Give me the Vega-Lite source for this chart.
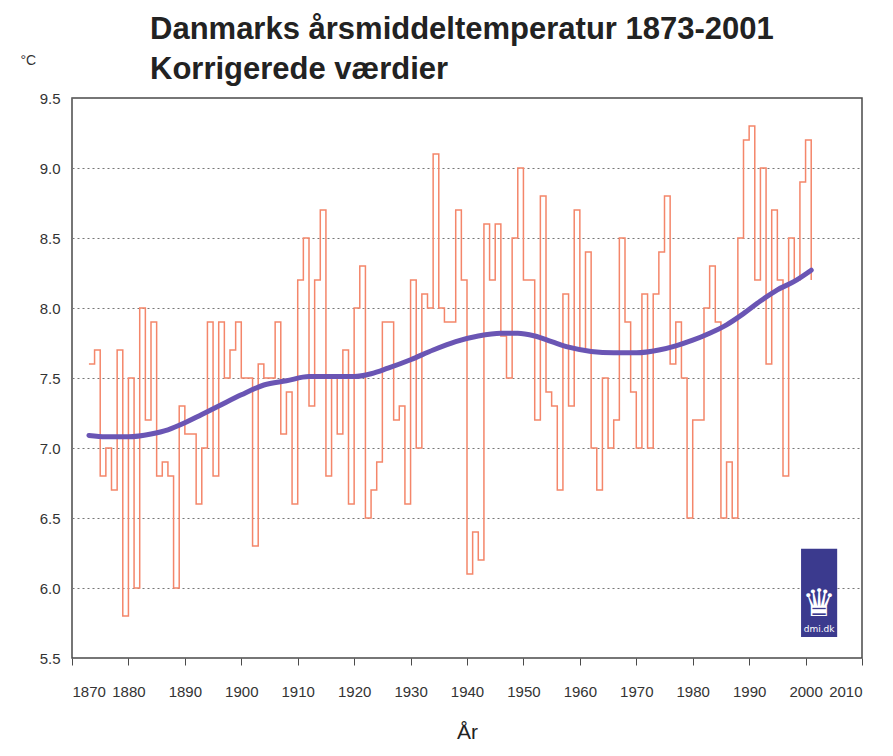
{
  "$schema": "https://vega.github.io/schema/vega-lite/v6.json",
  "width": 790,
  "height": 560,
  "autosize": {"type": "none"},
  "padding": {"left": 72, "top": 98, "right": 31, "bottom": 98},
  "background": "white",
  "config": {
    "font": "Liberation Sans",
    "view": {"stroke": "#4a4a4a", "strokeWidth": 1.5}
  },
  "title": {
    "text": ["Danmarks årsmiddeltemperatur 1873-2001", "Korrigerede værdier"],
    "fontSize": 31,
    "fontWeight": "bold",
    "color": "#222222",
    "anchor": "start",
    "frame": "group",
    "dx": 78,
    "offset": -33,
    "lineHeight": 40
  },
  "datasets": {
    "annual": [
      {"year":1873,"temp":7.6},{"year":1874,"temp":7.7},{"year":1875,"temp":6.8},{"year":1876,"temp":7.0},{"year":1877,"temp":6.7},
      {"year":1878,"temp":7.7},{"year":1879,"temp":5.8},{"year":1880,"temp":7.5},{"year":1881,"temp":6.0},{"year":1882,"temp":8.0},
      {"year":1883,"temp":7.2},{"year":1884,"temp":7.9},{"year":1885,"temp":6.8},{"year":1886,"temp":6.9},{"year":1887,"temp":6.8},
      {"year":1888,"temp":6.0},{"year":1889,"temp":7.3},{"year":1890,"temp":7.1},{"year":1891,"temp":7.1},{"year":1892,"temp":6.6},
      {"year":1893,"temp":7.0},{"year":1894,"temp":7.9},{"year":1895,"temp":6.8},{"year":1896,"temp":7.9},{"year":1897,"temp":7.5},
      {"year":1898,"temp":7.7},{"year":1899,"temp":7.9},{"year":1900,"temp":7.5},{"year":1901,"temp":7.5},{"year":1902,"temp":6.3},
      {"year":1903,"temp":7.6},{"year":1904,"temp":7.5},{"year":1905,"temp":7.5},{"year":1906,"temp":7.9},{"year":1907,"temp":7.1},
      {"year":1908,"temp":7.4},{"year":1909,"temp":6.6},{"year":1910,"temp":8.2},{"year":1911,"temp":8.5},{"year":1912,"temp":7.3},
      {"year":1913,"temp":8.2},{"year":1914,"temp":8.7},{"year":1915,"temp":6.8},{"year":1916,"temp":7.5},{"year":1917,"temp":7.1},
      {"year":1918,"temp":7.7},{"year":1919,"temp":6.6},{"year":1920,"temp":8.0},{"year":1921,"temp":8.3},{"year":1922,"temp":6.5},
      {"year":1923,"temp":6.7},{"year":1924,"temp":6.9},{"year":1925,"temp":7.9},{"year":1926,"temp":7.9},{"year":1927,"temp":7.2},
      {"year":1928,"temp":7.3},{"year":1929,"temp":6.6},{"year":1930,"temp":8.2},{"year":1931,"temp":7.0},{"year":1932,"temp":8.1},
      {"year":1933,"temp":8.0},{"year":1934,"temp":9.1},{"year":1935,"temp":8.0},{"year":1936,"temp":7.9},{"year":1937,"temp":7.9},
      {"year":1938,"temp":8.7},{"year":1939,"temp":8.2},{"year":1940,"temp":6.1},{"year":1941,"temp":6.4},{"year":1942,"temp":6.2},
      {"year":1943,"temp":8.6},{"year":1944,"temp":8.2},{"year":1945,"temp":8.6},{"year":1946,"temp":7.8},{"year":1947,"temp":7.5},
      {"year":1948,"temp":8.5},{"year":1949,"temp":9.0},{"year":1950,"temp":8.2},{"year":1951,"temp":8.2},{"year":1952,"temp":7.2},
      {"year":1953,"temp":8.8},{"year":1954,"temp":7.4},{"year":1955,"temp":7.3},{"year":1956,"temp":6.7},{"year":1957,"temp":8.1},
      {"year":1958,"temp":7.3},{"year":1959,"temp":8.7},{"year":1960,"temp":7.7},{"year":1961,"temp":8.4},{"year":1962,"temp":7.0},
      {"year":1963,"temp":6.7},{"year":1964,"temp":7.5},{"year":1965,"temp":7.0},{"year":1966,"temp":7.2},{"year":1967,"temp":8.5},
      {"year":1968,"temp":7.9},{"year":1969,"temp":7.4},{"year":1970,"temp":7.0},{"year":1971,"temp":8.1},{"year":1972,"temp":7.0},
      {"year":1973,"temp":8.1},{"year":1974,"temp":8.4},{"year":1975,"temp":8.8},{"year":1976,"temp":7.6},{"year":1977,"temp":7.9},
      {"year":1978,"temp":7.5},{"year":1979,"temp":6.5},{"year":1980,"temp":7.2},{"year":1981,"temp":7.2},{"year":1982,"temp":8.0},
      {"year":1983,"temp":8.3},{"year":1984,"temp":7.9},{"year":1985,"temp":6.5},{"year":1986,"temp":6.9},{"year":1987,"temp":6.5},
      {"year":1988,"temp":8.5},{"year":1989,"temp":9.2},{"year":1990,"temp":9.3},{"year":1991,"temp":8.2},{"year":1992,"temp":9.0},
      {"year":1993,"temp":7.6},{"year":1994,"temp":8.7},{"year":1995,"temp":8.2},{"year":1996,"temp":6.8},{"year":1997,"temp":8.5},
      {"year":1998,"temp":8.2},{"year":1999,"temp":8.9},{"year":2000,"temp":9.2},{"year":2001,"temp":8.2}
    ],
    "smooth": [
      {"year":1873,"temp":7.09},{"year":1876,"temp":7.08},{"year":1880,"temp":7.08},{"year":1884,"temp":7.10},{"year":1887,"temp":7.13},
      {"year":1890,"temp":7.18},{"year":1893,"temp":7.24},{"year":1896,"temp":7.30},{"year":1900,"temp":7.38},{"year":1904,"temp":7.45},
      {"year":1908,"temp":7.48},{"year":1912,"temp":7.51},{"year":1916,"temp":7.51},{"year":1920,"temp":7.51},{"year":1923,"temp":7.53},
      {"year":1926,"temp":7.57},{"year":1930,"temp":7.63},{"year":1934,"temp":7.70},{"year":1938,"temp":7.76},{"year":1942,"temp":7.80},
      {"year":1946,"temp":7.82},{"year":1949,"temp":7.82},{"year":1952,"temp":7.80},{"year":1955,"temp":7.76},{"year":1958,"temp":7.72},
      {"year":1962,"temp":7.69},{"year":1966,"temp":7.68},{"year":1970,"temp":7.68},{"year":1974,"temp":7.70},{"year":1977,"temp":7.73},
      {"year":1980,"temp":7.77},{"year":1983,"temp":7.82},{"year":1986,"temp":7.88},{"year":1989,"temp":7.96},{"year":1992,"temp":8.05},
      {"year":1995,"temp":8.13},{"year":1998,"temp":8.19},{"year":2001,"temp":8.27}
    ],
    "logo": [
      {"year":1999.2,"year2":2005.6,"temp":5.65,"temp2":6.28}
    ],
    "logotext": [
      {"year":2002.4,"temp":5.88,"label":"♛"},
      {"year":2002.4,"temp":5.71,"label":"dmi.dk"}
    ]
  },
  "encoding": {
    "x": {
      "field": "year",
      "type": "quantitative",
      "scale": {"domain": [1870, 2010], "nice": false, "zero": false},
      "axis": {
        "values": [1870,1880,1890,1900,1910,1920,1930,1940,1950,1960,1970,1980,1990,2000,2010],
        "format": "d",
        "grid": false,
        "domain": false,
        "tickSize": 7,
        "tickColor": "#4a4a4a",
        "labelFontSize": 15,
        "labelColor": "#333333",
        "labelPadding": 19,
        "title": "År",
        "titleFontSize": 21,
        "titleFontWeight": "normal",
        "titleColor": "#222222",
        "titlePadding": 22
      }
    },
    "y": {
      "field": "temp",
      "type": "quantitative",
      "scale": {"domain": [5.5, 9.5], "nice": false, "zero": false},
      "axis": {
        "values": [5.5,6.0,6.5,7.0,7.5,8.0,8.5,9.0,9.5],
        "format": ".1f",
        "grid": true,
        "gridDash": [2, 3],
        "gridColor": "#777777",
        "gridWidth": 1,
        "domain": false,
        "ticks": false,
        "labelFontSize": 15,
        "labelColor": "#333333",
        "labelPadding": 12,
        "title": "°C",
        "titleAngle": 0,
        "titleX": -52,
        "titleY": -38,
        "titleAlign": "left",
        "titleBaseline": "middle",
        "titleFontSize": 14,
        "titleFontWeight": "normal",
        "titleColor": "#333333"
      }
    }
  },
  "layer": [
    {
      "data": {"name": "logo"},
      "mark": {"type": "rect", "color": "#3b3a8e"},
      "encoding": {
        "x2": {"field": "year2"},
        "y2": {"field": "temp2"}
      }
    },
    {
      "data": {"name": "annual"},
      "mark": {"type": "line", "interpolate": "step-after", "color": "#f4866a", "strokeWidth": 1.5}
    },
    {
      "data": {"name": "smooth"},
      "mark": {"type": "line", "interpolate": "monotone", "color": "#6a55b4", "strokeWidth": 5, "strokeCap": "round"}
    },
    {
      "data": {"name": "logotext"},
      "mark": {"type": "text", "color": "white", "font": "DejaVu Sans"},
      "encoding": {
        "text": {"field": "label"},
        "size": {"condition": {"test": "datum.label === '♛'", "value": 38}, "value": 9}
      }
    }
  ]
}
